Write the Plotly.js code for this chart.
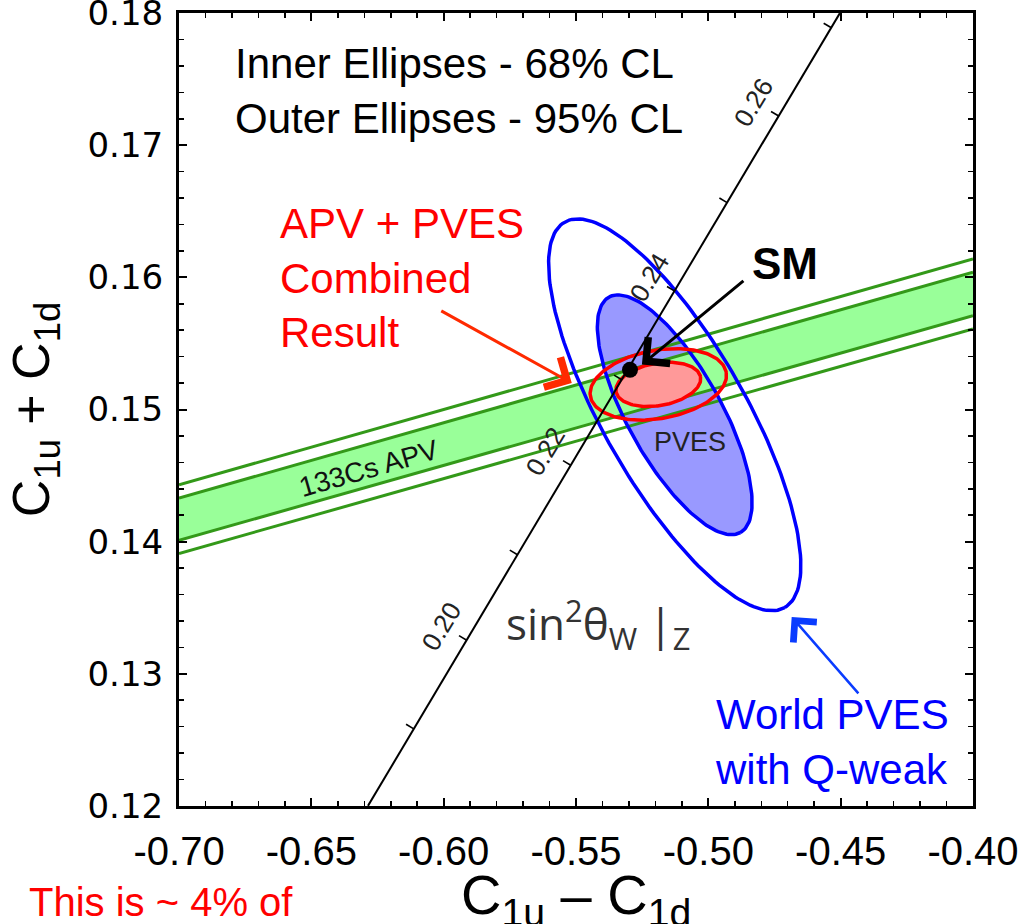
<!DOCTYPE html>
<html>
<head>
<meta charset="utf-8">
<script src="https://cdn.plot.ly/plotly-3.0.1.min.js"></script>
<style>
  html, body { margin: 0; padding: 0; background: #ffffff; }
  #chart { width: 1019px; height: 924px; }
</style>
</head>
<body>
<div id="chart"></div>
<script>
// ---------------- data ----------------
// axis ticks
const xTickVals = [-0.70, -0.65, -0.60, -0.55, -0.50, -0.45, -0.40];
const xTickText = ['-0.70', '-0.65', '-0.60', '-0.55', '-0.50', '-0.45', '-0.40'];
const yTickVals = [0.12, 0.13, 0.14, 0.15, 0.16, 0.17, 0.18];
const yTickText = ['0.12', '0.13', '0.14', '0.15', '0.16', '0.17', '0.18'];

// 133Cs APV band (edges at x = -0.70 and x = -0.40)
const apvX = [-0.70, -0.40];
const apv95Upper = [0.1443, 0.1614];
const apv68Upper = [0.1433, 0.1604];
const apv68Lower = [0.1401, 0.1571];
const apv95Lower = [0.1391, 0.1561];

// World PVES ellipses: centre and conjugate semi-axes (data units)
const pvesCenter = [-0.5127, 0.1496];
const pves95Major = [0.04156, -0.01459];
const pves95Minor = [-0.02333, -0.00267];
const pves68Major = [0.02483, -0.00891];
const pves68Minor = [-0.01544, -0.00173];

// APV + PVES combined ellipses
const combCenter = [-0.5189, 0.1519];
const comb95Major = [0.02567, 0.00091];
const comb95Minor = [0.00224, -0.00255];
const comb68Major = [0.01596, 0.00056];
const comb68Minor = [0.00139, -0.00158];

// Standard-Model sin^2(theta_W) line
const smLineX = [-0.6286, -0.4503];
const smLineY = [0.1200, 0.1800];
const sinTickVals = [0.19, 0.20, 0.21, 0.22, 0.23, 0.24, 0.25, 0.26, 0.27];
const sinTickX = [-0.6113, -0.5913, -0.5721, -0.5520, -0.5327, -0.5127, -0.4929, -0.4734, -0.4535];
const sinTickY = [0.12583, 0.13254, 0.13901, 0.14578, 0.15225, 0.15896, 0.16566, 0.17221, 0.17889];
const sinTickLabels = ['', '0.20', '', '0.22', '', '0.24', '', '0.26', ''];

// SM point
const smPoint = [-0.5296, 0.1530];

// ---------------- helpers ----------------
function ellipse(c, u, v) {
  const xs = [], ys = [];
  const n = 180;
  for (let i = 0; i <= n; i++) {
    const t = 2 * Math.PI * i / n;
    xs.push(c[0] + Math.cos(t) * u[0] + Math.sin(t) * v[0]);
    ys.push(c[1] + Math.cos(t) * u[1] + Math.sin(t) * v[1]);
  }
  return {x: xs, y: ys};
}
function minorTicks(a, b, step) {
  const out = [];
  const n = Math.round((b - a) / step);
  for (let i = 0; i <= n; i++) out.push(+(a + i * step).toFixed(4));
  return out;
}

const BLUE = '#0000ff';
const BLUE_FILL = '#9999ff';
const RED = '#ff0000';
const RED_FILL = '#ff9999';
const GREEN_FILL = '#99ff99';
const GREEN_LINE = '#339919';
const FONT = 'Liberation Sans, Arial, Helvetica, sans-serif';
const NARROW = 'Liberation Sans Narrow, Arial Narrow, Liberation Sans, Arial, sans-serif';

const e95 = ellipse(pvesCenter, pves95Major, pves95Minor);
const e68 = ellipse(pvesCenter, pves68Major, pves68Minor);
const c95 = ellipse(combCenter, comb95Major, comb95Minor);
const c68 = ellipse(combCenter, comb68Major, comb68Minor);

const traces = [];
// inner PVES fill (under the band)
traces.push({x: e68.x, y: e68.y, mode: 'lines', fill: 'toself', fillcolor: BLUE_FILL,
  line: {width: 0, color: BLUE_FILL}, hoverinfo: 'skip'});
// APV band 68% fill
traces.push({x: apvX.concat(apvX.slice().reverse()), y: apv68Upper.concat(apv68Lower.slice().reverse()),
  mode: 'lines', fill: 'toself', fillcolor: GREEN_FILL, line: {width: 0, color: GREEN_FILL}, hoverinfo: 'skip'});
// APV band lines
[apv95Upper, apv68Upper, apv68Lower, apv95Lower].forEach(function (yy) {
  traces.push({x: apvX, y: yy, mode: 'lines', line: {color: GREEN_LINE, width: 3}, hoverinfo: 'skip'});
});
// PVES outlines
traces.push({x: e95.x, y: e95.y, mode: 'lines', line: {color: BLUE, width: 3.5}, hoverinfo: 'skip'});
traces.push({x: e68.x, y: e68.y, mode: 'lines', line: {color: BLUE, width: 3.5}, hoverinfo: 'skip'});
// combined ellipses
traces.push({x: c68.x, y: c68.y, mode: 'lines', fill: 'toself', fillcolor: RED_FILL,
  line: {color: RED, width: 3.5}, hoverinfo: 'skip'});
traces.push({x: c95.x, y: c95.y, mode: 'lines', line: {color: RED, width: 3.5}, hoverinfo: 'skip'});
// SM line
traces.push({x: smLineX, y: smLineY, mode: 'lines', line: {color: '#000', width: 2}, hoverinfo: 'skip'});
// SM point
traces.push({x: [smPoint[0]], y: [smPoint[1]], mode: 'markers',
  marker: {color: '#000', size: 16}, hoverinfo: 'skip'});

// ticks on the SM line
const shapes = sinTickX.map(function (tx, i) {
  return {type: 'line', xref: 'x', yref: 'y', xsizemode: 'pixel', ysizemode: 'pixel',
    xanchor: tx, yanchor: sinTickY[i], x0: 0, y0: 0, x1: -7.7, y1: 4.6,
    line: {color: '#000', width: 1.6}};
});

const annotations = [];
sinTickLabels.forEach(function (lab, i) {
  if (!lab) return;
  annotations.push({x: sinTickX[i], y: sinTickY[i], xref: 'x', yref: 'y', text: lab,
    showarrow: false, textangle: -59, xshift: -25, yshift: 14,
    font: {family: FONT, size: 26, color: '#222'}});
});

annotations.push(
  {x: -0.6796, y: 0.1741, xref: 'x', yref: 'y', xanchor: 'left', yanchor: 'middle', align: 'left',
   text: 'Inner Ellipses - 68% CL<br>Outer Ellipses - 95% CL', showarrow: false,
   font: {family: FONT, size: 42, color: '#000'}},
  {x: -0.6626, y: 0.15995, xref: 'x', yref: 'y', xanchor: 'left', yanchor: 'middle', align: 'left',
   text: 'APV + PVES<br>Combined<br>Result', showarrow: false,
   font: {family: FONT, size: 42, color: '#ff0000'}},
  {x: -0.4982, y: 0.12482, xref: 'x', yref: 'y', xanchor: 'left', yanchor: 'middle', align: 'left',
   text: 'World PVES<br>with Q-weak', showarrow: false,
   font: {family: FONT, size: 42, color: '#0000ff'}},
  {x: -0.4710, y: 0.16108, xref: 'x', yref: 'y', text: '<b>SM</b>', showarrow: false,
   font: {family: FONT, size: 44, color: '#000'}},
  {x: -0.5069, y: 0.14754, xref: 'x', yref: 'y', text: 'PVES', showarrow: false,
   font: {family: FONT, size: 27, color: '#222'}},
  {x: -0.6284, y: 0.14554, xref: 'x', yref: 'y', text: '133Cs APV', showarrow: false, textangle: -16,
   font: {family: FONT, size: 28, color: '#111'}},
  {x: -0.5417, y: 0.1338, xref: 'x', yref: 'y', text: 'sin<sup>2</sup>θ<sub>W</sub> |<sub>Z</sub>', showarrow: false,
   font: {family: 'Open Sans, Noto Sans, sans-serif', size: 44, color: '#333'}},
  // x-axis title (placed below the tick labels, partly cut by the page edge as in the reference)
  {x: 0.5, y: -0.117, xref: 'paper', yref: 'paper', xanchor: 'center', yanchor: 'middle',
   text: 'C<sub>1u</sub> – C<sub>1d</sub>', showarrow: false,
   font: {family: NARROW, size: 56, color: '#000'}},
  // arrows
  {x: -0.5251, y: 0.1534, xref: 'x', yref: 'y', text: '', showarrow: true, ax: 103, ay: -85,
   arrowhead: 4, arrowsize: 2.2, arrowwidth: 3, arrowcolor: '#000'},
  {x: -0.5516, y: 0.1520, xref: 'x', yref: 'y', text: '', showarrow: true, ax: -132, ay: -73,
   arrowhead: 4, arrowsize: 2.2, arrowwidth: 3, arrowcolor: '#ff2a00'},
  {x: -0.4685, y: 0.1343, xref: 'x', yref: 'y', text: '', showarrow: true, ax: 68, ay: 78,
   arrowhead: 4, arrowsize: 2.4, arrowwidth: 2.5, arrowcolor: '#0a3cff'},
  // cut-off text at bottom-left
  {x: -0.1914, y: -0.121, xref: 'paper', yref: 'paper', xanchor: 'left', yanchor: 'middle',
   text: 'This is ~ 4% of', showarrow: false, font: {family: FONT, size: 40, color: '#ff0000'}}
);

const layout = {
  width: 1019, height: 924,
  margin: {l: 179, r: 46, t: 13, b: 118, pad: 0},
  paper_bgcolor: '#fff', plot_bgcolor: '#fff',
  showlegend: false,
  xaxis: {
    range: [-0.70001, -0.39999], tickmode: 'array', tickvals: xTickVals, ticktext: xTickText,
    ticks: 'inside', ticklen: 8, tickwidth: 2, tickcolor: '#000',
    minor: {tickmode: 'array', tickvals: minorTicks(-0.70, -0.40, 0.01), ticks: 'inside', ticklen: 5, tickwidth: 1.5, tickcolor: '#000'},
    showline: true, linewidth: 3, linecolor: '#000', mirror: 'ticks',
    showgrid: false, zeroline: false, ticklabelstandoff: 8, ticklabeloverflow: 'allow',
    tickfont: {family: NARROW, size: 40, color: '#000'}
  },
  yaxis: {
    range: [0.11999, 0.18001], tickmode: 'array', tickvals: yTickVals, ticktext: yTickText,
    ticks: 'inside', ticklen: 8, tickwidth: 2, tickcolor: '#000',
    minor: {tickmode: 'array', tickvals: minorTicks(0.12, 0.18, 0.002), ticks: 'inside', ticklen: 5, tickwidth: 1.5, tickcolor: '#000'},
    showline: true, linewidth: 3, linecolor: '#000', mirror: 'ticks',
    showgrid: false, zeroline: false, ticklabelstandoff: 6, ticklabeloverflow: 'allow',
    tickfont: {family: 'DejaVu Sans, Verdana, sans-serif', size: 34, color: '#000'},
    title: {text: 'C<sub>1u</sub> + C<sub>1d</sub>', standoff: 22,
      font: {family: NARROW, size: 52, color: '#000'}}
  },
  shapes: shapes,
  annotations: annotations
};

Plotly.newPlot('chart', traces, layout, {displayModeBar: false, staticPlot: true});
</script>
</body>
</html>
